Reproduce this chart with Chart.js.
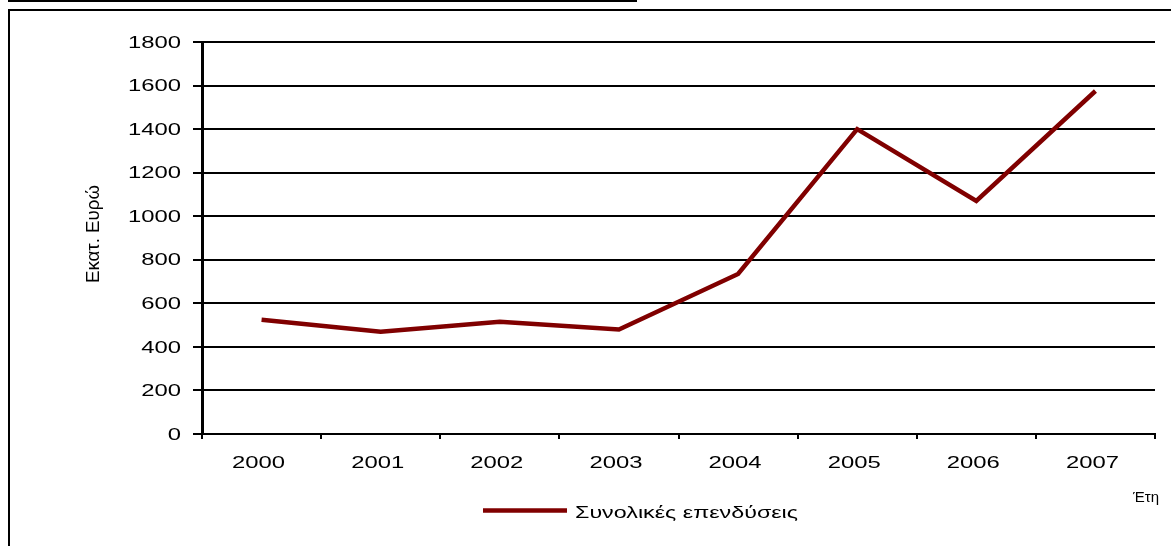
<!DOCTYPE html>
<html><head><meta charset="utf-8">
<script src="https://cdn.jsdelivr.net/npm/chart.js@4/dist/chart.umd.min.js"></script>
<style>
html,body{margin:0;padding:0;background:#fff;width:1171px;height:546px;overflow:hidden;position:relative}
#frame{position:absolute;left:8px;top:9px;width:1200px;height:600px;border:2px solid #000;box-sizing:border-box}
#topline{position:absolute;left:8px;top:0;width:629px;height:2px;background:#000}
#c{position:absolute;left:0;top:0}
</style></head><body>
<div id="topline"></div><div id="frame"></div>
<canvas id="c" width="1171" height="546"></canvas>
<script>
const years = ['2000','2001','2002','2003','2004','2005','2006','2007'];
const investment = [525, 470, 515, 480, 735, 1400, 1070, 1575];
const yTicks = [0, 200, 400, 600, 800, 1000, 1200, 1400, 1600, 1800];
const seriesLabel = 'Συνολικές επενδύσεις';
const yTitle = 'Εκατ. Ευρώ';
const xTitle = 'Έτη';

const FONT = '"Liberation Sans", Arial, sans-serif';
function drawStretched(ctx, text, x, y, align, sx, rot) {
  ctx.save();
  ctx.translate(x, y);
  if (rot) ctx.rotate(rot);
  ctx.scale(sx, 1);
  ctx.textAlign = align;
  ctx.textBaseline = 'alphabetic';
  ctx.fillText(text, 0, 0);
  ctx.restore();
}
const textPlugin = {
  id: 'texts',
  afterDraw(chart) {
    const ctx = chart.ctx, xs = chart.scales.x, ys = chart.scales.y;
    ctx.save();
    ctx.fillStyle = '#000';
    ctx.font = '16px ' + FONT;
    const sx = 53 / ctx.measureText('2000').width;
    ys.ticks.forEach(t => {
      const y = ys.getPixelForValue(t.value);
      drawStretched(ctx, String(t.value), 181, y + 5.7, 'right', sx);
    });
    years.forEach((lab, i) => {
      const x = xs.getPixelForValue(i);
      drawStretched(ctx, lab, x - 3, 468, 'center', sx);
    });
    // x title
    ctx.font = '15px ' + FONT;
    drawStretched(ctx, xTitle, 1133, 502, 'left', 1);
    // y title
    ctx.font = '18px ' + FONT;
    drawStretched(ctx, yTitle, 99, 234, 'center', 98 / ctx.measureText(yTitle).width, -Math.PI / 2);
    // legend
    const ds = chart.data.datasets[0];
    ctx.strokeStyle = ds.borderColor;
    ctx.lineWidth = 4.5;
    ctx.beginPath();
    ctx.moveTo(483, 510.5);
    ctx.lineTo(567, 510.5);
    ctx.stroke();
    ctx.font = '16px ' + FONT;
    drawStretched(ctx, ds.label, 575, 518, 'left', 223 / ctx.measureText(ds.label).width);
    ctx.restore();
  }
};

new Chart(document.getElementById('c').getContext('2d'), {
  type: 'line',
  data: {
    labels: years,
    datasets: [{
      label: seriesLabel,
      data: investment,
      borderColor: '#800000',
      backgroundColor: '#800000',
      borderWidth: 4.5,
      pointRadius: 0,
      tension: 0,
      borderJoinStyle: 'miter',
      borderCapStyle: 'butt'
    }]
  },
  options: {
    responsive: false,
    animation: false,
    devicePixelRatio: 1,
    layout: { padding: { left: 0, top: 42, right: 16, bottom: 0 } },
    plugins: { legend: { display: false }, tooltip: { enabled: false } },
    scales: {
      x: {
        type: 'category',
        offset: true,
        grid: { offset: true, drawOnChartArea: false, drawTicks: true, tickLength: 5, color: '#000', lineWidth: 2 },
        border: { display: true, color: '#000', width: 2 },
        ticks: { display: false },
        afterFit(s) { s.height = 112; }
      },
      y: {
        min: 0, max: 1800,
        afterBuildTicks(s) { s.ticks = yTicks.map(v => ({ value: v })); },
        grid: { color: '#000', lineWidth: 2, tickLength: 9, drawTicks: true },
        border: { display: true, color: '#000', width: 3 },
        ticks: { display: false },
        afterFit(s) { s.width = 202; }
      }
    }
  },
  plugins: [textPlugin]
});
</script>
</body></html>
